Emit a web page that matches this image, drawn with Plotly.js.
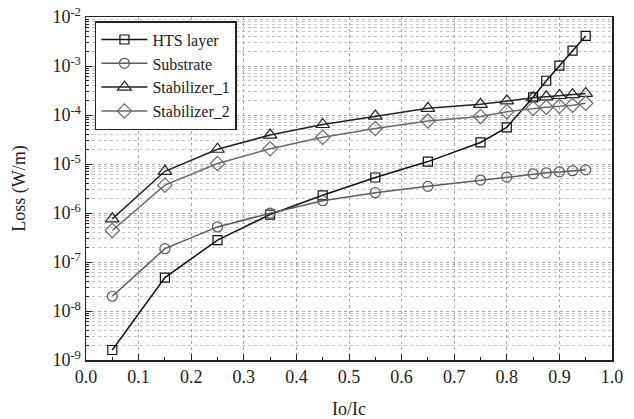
<!DOCTYPE html>
<html><head><meta charset="utf-8">
<script src="https://cdn.plot.ly/plotly-3.0.1.min.js"></script>
<style>html,body{margin:0;padding:0;background:#fff}#chart{width:634px;height:419px}</style>
</head><body><div id="chart"></div>
<script>
const ratio = [0.05,0.15,0.25,0.35,0.45,0.55,0.65,0.75,0.8,0.85,0.875,0.9,0.925,0.95];
const htsLayer = [1.6e-9,4.8e-8,2.8e-7,9.3e-7,2.3e-6,5.3e-6,1.12e-5,2.75e-5,5.6e-5,2.3e-4,5.0e-4,1.02e-3,2.05e-3,4.1e-3];
const substrate = [2.0e-8,1.87e-7,5.2e-7,9.9e-7,1.78e-6,2.6e-6,3.5e-6,4.7e-6,5.4e-6,6.3e-6,6.6e-6,6.9e-6,7.3e-6,7.6e-6];
const stabilizer1 = [7.6e-7,7.1e-6,2.0e-5,3.9e-5,6.4e-5,9.5e-5,1.37e-4,1.65e-4,1.94e-4,2.25e-4,2.35e-4,2.5e-4,2.6e-4,2.75e-4];
const stabilizer2 = [4.4e-7,3.7e-6,1.02e-5,2.04e-5,3.5e-5,5.3e-5,7.5e-5,9.3e-5,1.17e-4,1.37e-4,1.44e-4,1.5e-4,1.58e-4,1.73e-4];
const names = ['HTS layer','Substrate','Stabilizer_1','Stabilizer_2'];
const yTickVals = [1e-9,1e-8,1e-7,1e-6,1e-5,1e-4,1e-3,1e-2];
const yTickText = ['10<sup>-9</sup>','10<sup>-8</sup>','10<sup>-7</sup>','10<sup>-6</sup>','10<sup>-5</sup>','10<sup>-4</sup>','10<sup>-3</sup>','10<sup>-2</sup>'];

const series = [htsLayer, substrate, stabilizer1, stabilizer2];
const colors = ['#111111','#5a5a5a','#222222','#6a6a6a'];
const symbols = ['square-open','circle-open','triangle-up-open','diamond-open'];
const sizes = [9,10,12,11];
const traces = series.map((s,i)=>({
  x: ratio, y: s, name: names[i], type:'scatter', mode:'lines+markers',
  line:{color:colors[i], width:1.5},
  marker:{symbol:symbols[i], size:sizes[i], color:colors[i], line:{width:1.2, color:colors[i]}}
}));
const fam = 'Liberation Serif';
const layout = {
  width:634, height:419,
  margin:{l:86, r:22, t:17, b:59},
  paper_bgcolor:'#fff', plot_bgcolor:'#fff',
  font:{family:fam, color:'#222', size:17},
  showlegend:true,
  legend:{x:0.017, y:0.988, xanchor:'left', yanchor:'top', bordercolor:'#222', borderwidth:1.5,
    bgcolor:'#fff', font:{family:fam, size:16, color:'#222'}, itemwidth:46},
  xaxis:{range:[0,1], dtick:0.1, tick0:0, tickformat:'.1f', ticks:'inside', ticklen:6, tickcolor:'#222',
    showline:true, linecolor:'#222', linewidth:1.5, mirror:true, zeroline:false,
    showgrid:true, gridcolor:'#aaa', griddash:'dot', gridwidth:1,
    minor:{dtick:0.05, ticks:'inside', ticklen:3, tickcolor:'#222', showgrid:false},
    title:{text:'Io/Ic', font:{family:fam, size:18, color:'#222'}, standoff:18},
    tickfont:{family:fam, size:18, color:'#222'}},
  yaxis:{type:'log', range:[-9,-2], tickvals:yTickVals, ticktext:yTickText, ticks:'inside', ticklen:6, tickcolor:'#222',
    showline:true, linecolor:'#222', linewidth:1.5, mirror:true, zeroline:false,
    showgrid:true, gridcolor:'#aaa', griddash:'dot', gridwidth:1,
    minor:{dtick:'D1', ticks:'inside', ticklen:3, tickcolor:'#222', showgrid:true, gridcolor:'#c4c4c4', griddash:'dot', gridwidth:1},
    title:{text:'Loss (W/m)', font:{family:fam, size:18, color:'#222'}, standoff:22},
    tickfont:{family:fam, size:18, color:'#222'}}
};
Plotly.newPlot('chart', traces, layout, {displayModeBar:false, staticPlot:true});
</script></body></html>
